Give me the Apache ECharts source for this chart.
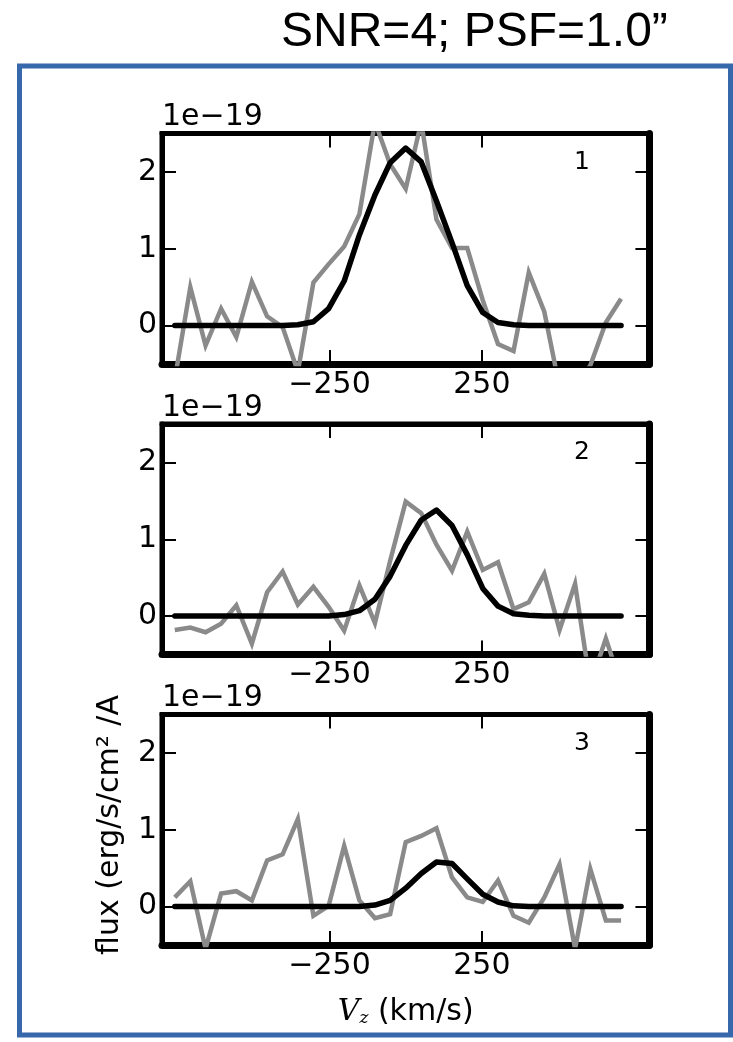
<!DOCTYPE html>
<html>
<head>
<meta charset="utf-8">
<title>SNR=4; PSF=1.0” spectra</title>
<script src="https://cdn.jsdelivr.net/npm/echarts@6/dist/echarts.min.js"></script>
<style>
  html, body { margin: 0; padding: 0; background: #ffffff; }
  #chart { width: 733px; height: 1042px; }
</style>
</head>
<body>
<div id="chart"></div>
<script>
// Velocity grid of the spectral pixels (km/s)
const velocity = [-758, -707, -657, -606, -556, -505, -455, -404, -354, -303,
                  -253, -202, -152, -101, -51, 0, 51, 101, 152, 202,
                  253, 303, 354, 404, 455, 505, 556, 606, 657, 707];

// Observed flux per aperture (units of 1e-19 erg/s/cm^2/A)
const observed1 = [-0.70, 0.50, -0.26, 0.22, -0.15, 0.57, 0.12, -0.02, -0.60, 0.56,
                   0.80, 1.03, 1.45, 2.65, 2.10, 1.78, 2.65, 1.38, 1.01, 1.01,
                   0.33, -0.24, -0.33, 0.69, 0.18, -0.80, -0.80, -0.52, 0.04, 0.35];
const observed2 = [-0.18, -0.15, -0.21, -0.10, 0.14, -0.36, 0.31, 0.58, 0.15, 0.38,
                   0.12, -0.19, 0.40, -0.09, 0.72, 1.49, 1.34, 0.93, 0.59, 1.10,
                   0.60, 0.70, 0.09, 0.18, 0.55, -0.18, 0.42, -0.90, -0.29, -0.90];
const observed3 = [0.12, 0.33, -0.55, 0.17, 0.20, 0.08, 0.60, 0.68, 1.14, -0.12,
                   0.01, 0.79, 0.08, -0.15, -0.10, 0.84, 0.92, 1.02, 0.38, 0.12,
                   0.06, 0.34, -0.12, -0.21, 0.12, 0.55, -0.55, 0.49, -0.18, -0.18];

// Fitted line profiles
const model1 = [0, 0, 0, 0, 0, 0, 0, 0, 0.01, 0.05,
                0.22, 0.58, 1.18, 1.70, 2.12, 2.31, 2.13, 1.62, 1.08, 0.52,
                0.17, 0.04, 0.01, 0, 0, 0, 0, 0, 0, 0];
const model2 = [0, 0, 0, 0, 0, 0, 0, 0, 0, 0,
                0, 0.02, 0.07, 0.22, 0.52, 0.92, 1.25, 1.38, 1.18, 0.80,
                0.36, 0.13, 0.03, 0.01, 0, 0, 0, 0, 0, 0];
const model3 = [0, 0, 0, 0, 0, 0, 0, 0, 0, 0,
                0, 0, 0, 0.02, 0.08, 0.24, 0.43, 0.58, 0.56, 0.36,
                0.16, 0.06, 0.01, 0, 0, 0, 0, 0, 0, 0];

const xTickValues = [-250, 250];
const yTickValues = [0, 1, 2];
const panelNames = ['1', '2', '3'];
const scaleText = '1e\u221219';
const titleText = 'SNR=4; PSF=1.0\u201D';

const observedSets = [observed1, observed2, observed3];
const modelSets = [model1, model2, model3];

// Layout of the three stacked panels (px)
const PANEL_LEFT = 162;
const PANEL_WIDTH = 487.4;
const PANEL_HEIGHT = 230.5;
const PANEL_TOPS = [133.5, 424, 714.5];

const FONT = '"DejaVu Sans", sans-serif';
const minusFmt = v => (v < 0 ? '\u2212' + Math.abs(v) : String(v));

const grids = [], xAxes = [], yAxes = [], series = [], graphics = [];

PANEL_TOPS.forEach((top, i) => {
  grids.push({
    left: PANEL_LEFT, top: top, width: PANEL_WIDTH, height: PANEL_HEIGHT,
    show: true, borderColor: '#000', borderWidth: 5, backgroundColor: 'transparent',
    containLabel: false, outerBoundsMode: 'none'
  });
  const isLast = i === PANEL_TOPS.length - 1;
  // bottom axis with labels
  xAxes.push({
    gridIndex: i, type: 'value', position: 'bottom', min: -800, max: 800,
    axisLine: { show: true, onZero: false, lineStyle: { color: '#000', width: 7 } },
    axisTick: { show: true, inside: true, length: 14, customValues: xTickValues,
                lineStyle: { color: '#000', width: 2 } },
    axisLabel: { show: true, customValues: xTickValues, formatter: minusFmt, margin: 6,
                 color: '#000', fontSize: 30, fontFamily: FONT },
    splitLine: { show: false },
    name: isLast ? '{v|V}{z|z}{n| (km/s)}' : '',
    nameLocation: 'middle', nameGap: 52,
    nameTextStyle: {
      color: '#000', fontSize: 30, fontFamily: FONT,
      rich: {
        v: { fontFamily: '"DejaVu Serif", serif', fontStyle: 'italic', fontSize: 30, color: '#000', lineHeight: 30 },
        z: { fontFamily: '"DejaVu Serif", serif', fontStyle: 'italic', fontSize: 17, color: '#000',
             lineHeight: 4, verticalAlign: 'bottom' },
        n: { fontFamily: FONT, fontSize: 30, color: '#000', lineHeight: 30 }
      }
    }
  });
  // top axis: ticks only
  xAxes.push({
    gridIndex: i, type: 'value', position: 'top', min: -800, max: 800,
    axisLine: { show: true, onZero: false, lineStyle: { color: '#000', width: 5 } },
    axisTick: { show: true, inside: true, length: 14, customValues: xTickValues,
                lineStyle: { color: '#000', width: 2 } },
    axisLabel: { show: false }, splitLine: { show: false }
  });
  // left axis with labels and the scale factor
  yAxes.push({
    gridIndex: i, type: 'value', position: 'left', min: -0.5, max: 2.5,
    axisLine: { show: true, onZero: false, lineStyle: { color: '#000', width: 5 } },
    axisTick: { show: true, inside: true, length: 14, customValues: yTickValues,
                lineStyle: { color: '#000', width: 2 } },
    axisLabel: { show: true, customValues: yTickValues, margin: 5,
                 color: '#000', fontSize: 30, fontFamily: FONT },
    splitLine: { show: false },
    name: scaleText, nameLocation: 'end', nameGap: 1,
    nameTextStyle: { color: '#000', fontSize: 30, fontFamily: FONT,
                     align: 'left', verticalAlign: 'bottom', lineHeight: 30 }
  });
  // right axis: ticks only
  yAxes.push({
    gridIndex: i, type: 'value', position: 'right', min: -0.5, max: 2.5,
    axisLine: { show: true, onZero: false, lineStyle: { color: '#000', width: 7 } },
    axisTick: { show: true, inside: true, length: 14, customValues: yTickValues,
                lineStyle: { color: '#000', width: 2 } },
    axisLabel: { show: false }, splitLine: { show: false }
  });

  series.push({
    type: 'line', name: 'observed ' + panelNames[i],
    xAxisIndex: 2 * i, yAxisIndex: 2 * i,
    data: velocity.map((v, k) => [v, observedSets[i][k]]),
    showSymbol: false, symbol: 'none', clip: true, z: 2,
    lineStyle: { color: '#8a8a8a', width: 4.5, join: 'miter' }
  });
  series.push({
    type: 'line', name: 'model ' + panelNames[i],
    xAxisIndex: 2 * i, yAxisIndex: 2 * i,
    data: velocity.map((v, k) => [v, modelSets[i][k]]),
    showSymbol: false, symbol: 'none', clip: true, z: 3,
    lineStyle: { color: '#000', width: 5.5, join: 'round', cap: 'round' }
  });

  graphics.push({
    type: 'text', x: 582, y: top + 28.5, z: 10,
    style: { text: panelNames[i], fill: '#000', fontSize: 25, fontFamily: FONT,
             align: 'center', verticalAlign: 'middle' }
  });
});

// outer frame, title and shared flux label
graphics.push({
  type: 'rect', z: 0,
  shape: { x: 19.5, y: 66, width: 711, height: 969 },
  style: { fill: 'none', stroke: '#3768ab', lineWidth: 5 }
});
graphics.push({
  type: 'text', x: 281, y: 33, z: 10,
  style: { text: titleText, fill: '#000', fontSize: 48,
           fontFamily: '"Liberation Sans", Arial, sans-serif',
           align: 'left', verticalAlign: 'middle' }
});
graphics.push({
  type: 'text', x: 110, y: 825, rotation: Math.PI / 2, z: 10,
  style: { text: 'flux (erg/s/cm\u00B2 /A', fill: '#000', fontSize: 30, fontFamily: FONT,
           align: 'center', verticalAlign: 'middle' }
});

const chart = echarts.init(document.getElementById('chart'), null, { renderer: 'canvas' });
chart.setOption({
  animation: false,
  backgroundColor: '#ffffff',
  grid: grids,
  xAxis: xAxes,
  yAxis: yAxes,
  series: series,
  graphic: graphics
});
</script>
</body>
</html>
